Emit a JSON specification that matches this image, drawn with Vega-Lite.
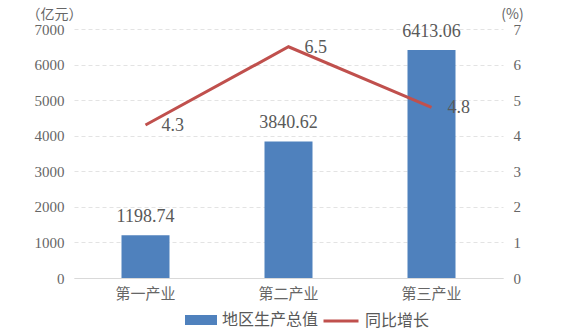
{
  "$schema": "https://vega.github.io/schema/vega-lite/v6.json",
  "width": 429,
  "height": 249,
  "autosize": {"type": "none"},
  "padding": {"left": 74, "top": 29, "right": 79, "bottom": 56},
  "background": "white",
  "data": {"values": [
    {"cat": "第一产业", "gdp": 1198.74, "growth": 4.3},
    {"cat": "第二产业", "gdp": 3840.62, "growth": 6.5},
    {"cat": "第三产业", "gdp": 6413.06, "growth": 4.8}
  ]},
  "config": {
    "view": {"stroke": null},
    "axis": {"labelColor": "#666666", "titleColor": "#666666", "ticks": false, "domain": false},
    "text": {"font": "Liberation Serif"}
  },
  "encoding": {
    "x": {
      "field": "cat", "type": "nominal", "sort": null,
      "scale": {"paddingInner": 0, "paddingOuter": 0},
      "axis": {"title": null, "labelAngle": 0, "labelFont": "Noto Sans CJK SC", "labelFontSize": 15, "labelPadding": 8, "domain": true, "domainColor": "#d9d9d9", "domainWidth": 1}
    }
  },
  "layer": [
    {
      "encoding": {
        "y": {
          "field": "gdp", "type": "quantitative",
          "scale": {"domain": [0, 7000]},
          "axis": {
            "title": "（亿元）", "titleAngle": 0, "titleAlign": "center", "titleBaseline": "middle",
            "titleX": -20, "titleY": -15, "titleFont": "Noto Sans CJK SC", "titleFontSize": 14, "titleFontWeight": "normal",
            "values": [0, 1000, 2000, 3000, 4000, 5000, 6000, 7000], "format": "d", "labelOverlap": false,
            "labelFont": "Liberation Serif", "labelFontSize": 15, "labelPadding": 10,
            "grid": true, "gridColor": "#e3e3e3", "gridDash": [4, 3]
          }
        }
      },
      "layer": [
        {
          "mark": {"type": "bar", "width": 48},
          "encoding": {
            "fill": {"datum": "地区生产总值", "type": "nominal",
              "scale": {"domain": ["地区生产总值"], "range": ["#4F81BD"]},
              "legend": {
                "orient": "none", "legendX": 111, "legendY": 281, "padding": 0, "title": null,
                "symbolType": "M-1,-0.5H2.2V0.5H-1Z", "symbolSize": 400, "symbolStrokeWidth": 0,
                "labelOffset": 17, "labelFont": "Noto Sans CJK SC", "labelFontSize": 16, "labelColor": "#595959"
              }
            }
          }
        },
        {
          "mark": {"type": "text", "baseline": "bottom", "dy": -9, "fontSize": 18, "color": "#595959"},
          "encoding": {
            "text": {"field": "gdp", "type": "quantitative", "format": ".2f"}
          }
        }
      ]
    },
    {
      "encoding": {
        "y": {
          "field": "growth", "type": "quantitative",
          "scale": {"domain": [0, 7]},
          "axis": {
            "orient": "right", "title": "(%)", "titleAngle": 0, "titleAlign": "center", "titleBaseline": "middle",
            "titleX": 9, "titleY": -15, "titleFont": "Noto Sans CJK SC", "titleFontSize": 14, "titleFontWeight": "normal",
            "values": [0, 1, 2, 3, 4, 5, 6, 7], "format": "d", "labelOverlap": false,
            "labelFont": "Liberation Serif", "labelFontSize": 15, "labelPadding": 10, "grid": false
          }
        }
      },
      "layer": [
        {
          "mark": {"type": "line", "strokeWidth": 3},
          "encoding": {
            "stroke": {"datum": "同比增长", "type": "nominal",
              "scale": {"domain": ["同比增长"], "range": ["#C0504D"]},
              "legend": {
                "orient": "none", "legendX": 248, "legendY": 273, "padding": 0, "title": null,
                "symbolType": "stroke", "symbolSize": 1225, "symbolStrokeWidth": 3,
                "labelOffset": 5, "labelFont": "Noto Sans CJK SC", "labelFontSize": 16, "labelColor": "#595959"
              }
            }
          }
        },
        {
          "mark": {"type": "text", "align": "left", "baseline": "middle", "dx": 16, "dy": 1, "fontSize": 18, "color": "#595959"},
          "encoding": {
            "text": {"field": "growth", "type": "quantitative", "format": ".1f"}
          }
        }
      ]
    }
  ],
  "resolve": {"scale": {"y": "independent"}}
}
